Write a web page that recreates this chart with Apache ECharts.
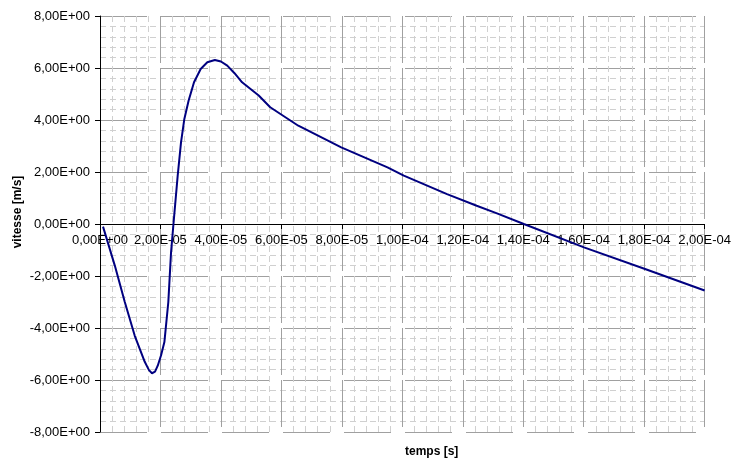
<!DOCTYPE html>
<html>
<head>
<meta charset="utf-8">
<script src="https://cdn.jsdelivr.net/npm/echarts@6/dist/echarts.min.js"></script>
<style>
  html, body { margin: 0; padding: 0; background: #fff; }
  #chart { width: 734px; height: 462px; }
</style>
</head>
<body>
<div id="chart"></div>
<script>
// temps [s] (in µs here, scaled below) and vitesse [m/s]
const tempsUs = [1, 4.9, 8.2, 11.5, 14.8, 16.2, 17.2, 18.2, 19.1, 20.2, 21.3, 22.6, 23.5, 24.3,
  25.7, 26.8, 27.9, 29.3, 31.1, 33.3, 35.5, 38.0, 40.0, 42.1, 44.5, 47.0, 52.5, 56.3, 65.6,
  79.8, 95.1, 100.5, 114.8, 124.6, 131.1, 140.2, 160.1, 180.3, 200];
const vitesse = [-0.1, -1.6, -3.0, -4.3, -5.3, -5.62, -5.74, -5.68, -5.45, -5.05, -4.54, -3.0, -1.09, 0,
  1.86, 3.14, 4.04, 4.74, 5.45, 5.96, 6.22, 6.31, 6.25, 6.09, 5.8, 5.45, 4.94, 4.49, 3.78,
  2.95, 2.18, 1.86, 1.15, 0.70, 0.42, 0, -0.90, -1.73, -2.56];

const xTicks = { min: 0, max: 2e-4, step: 2e-5 };
const yTicks = { min: -8, max: 8, step: 2 };

function excelSci(v) {
  // 8,00E+00 style
  let s = Number(v).toExponential(2);
  let parts = s.split("e");
  let exp = parseInt(parts[1], 10);
  let sign = exp < 0 ? "-" : "+";
  let e = String(Math.abs(exp)).padStart(2, "0");
  return parts[0].replace(".", ",") + "E" + sign + e;
}

const data = tempsUs.map((t, i) => [t * 1e-6, vitesse[i]]);

const chart = echarts.init(document.getElementById("chart"));

const labelFont = { fontFamily: "Liberation Sans, Arial", fontSize: 13, color: "#000" };

// plot is 416px tall, zero sits in the middle: pull the x axis up to it
const GRID_TOP = 16, GRID_H = 416;

chart.setOption({
  animation: false,
  grid: { left: 100, right: 24, top: GRID_TOP, height: GRID_H },
  xAxis: {
    type: "value",
    min: xTicks.min,
    max: xTicks.max,
    interval: xTicks.step,
    offset: -GRID_H / 2,
    axisLine: { onZero: false, lineStyle: { color: "#000", width: 1 } },
    axisTick: { show: true, length: 5, lineStyle: { color: "#000" } },
    axisLabel: Object.assign({ margin: 10, formatter: excelSci, showMaxLabel: true, showMinLabel: true }, labelFont),
    splitLine: { show: true, lineStyle: { color: "#a0a0a0", width: 1, type: [47, 5] } },
    minorTick: { show: false, splitNumber: 5 },
    minorSplitLine: { show: true, lineStyle: { color: "#d0d0d0", width: 1, type: [6, 4] } }
  },
  yAxis: {
    type: "value",
    min: yTicks.min,
    max: yTicks.max,
    interval: yTicks.step,
    axisLine: { show: true, lineStyle: { color: "#000", width: 1 } },
    axisTick: { show: true, length: 5, lineStyle: { color: "#000" } },
    axisLabel: Object.assign({ margin: 10, formatter: excelSci }, labelFont),
    splitLine: { show: true, lineStyle: { color: "#a0a0a0", width: 1, type: [47, 14] } },
    minorTick: { show: false, splitNumber: 5 },
    minorSplitLine: { show: true, lineStyle: { color: "#d0d0d0", width: 1, type: [6, 4] } }
  },
  graphic: [
    {
      type: "text",
      left: 405, top: 446,
      style: { text: "temps [s]", font: "bold 12px Liberation Sans, Arial", fill: "#000", textAlign: "center" }
    },
    {
      type: "text",
      x: 18, y: 212,
      rotation: Math.PI / 2,
      style: { text: "vitesse [m/s]", font: "bold 12px Liberation Sans, Arial", fill: "#000",
        textAlign: "center", textVerticalAlign: "middle" }
    }
  ],
  series: [{
    type: "line",
    data: data,
    showSymbol: false,
    smooth: false,
    lineStyle: { color: "#000080", width: 2 },
    itemStyle: { color: "#000080" }
  }]
});
</script>
</body>
</html>
